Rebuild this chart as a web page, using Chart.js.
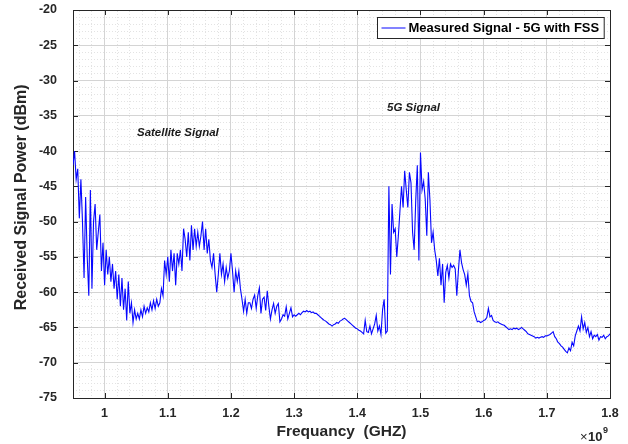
<!DOCTYPE html>
<html>
<head>
<meta charset="utf-8">
<title>Received Signal Power</title>
<script src="https://cdn.jsdelivr.net/npm/chart.js@4.4.1/dist/chart.umd.min.js"></script>
<style>
    html, body { margin: 0; padding: 0; background: #ffffff; }
    #wrap { width: 628px; height: 444px; }
</style>
</head>
<body>
<div id="wrap"><canvas id="signalChart" width="628" height="444"></canvas></div>
<script>
// sweep: 0.95 GHz to 1.80 GHz, one reading every 2.5 MHz
const freqStartGhz = 0.95;
const freqStepGhz = 0.0025;

const powerDbm = [
    -42, -40, -44, -42.5, -49.5, -44, -50, -58, -46.5, -55, -60.5, -45.5, -59.5, -50, -47.5, -54, -51.5, -49, -57, -53,
    -59, -54, -57.5, -55, -58.5, -56, -59.5, -57, -61, -57.5, -62, -58, -62.5, -59.5, -64, -58.5, -63, -61.5, -64.3, -62.5,
    -63.8, -63, -63.8, -62.5, -63.5, -62, -63, -62.2, -62.8, -61.5, -62.5, -61.2, -62.3, -61, -62, -61.5, -59.5, -60.5, -55.5, -57.5,
    -55, -58.5, -54, -57, -54.5, -59, -54.5, -56, -54, -57, -51, -52.5, -55, -51.5, -55.5, -50.5, -54, -51, -53.5, -51.5,
    -53.5, -52, -50, -54, -51, -54.5, -52.5, -55.5, -56.5, -54.5, -57.5, -60, -57.5, -54.5, -57.5, -56, -58.5, -56.5, -58, -57,
    -54.5, -57, -60, -57, -58.5, -57, -59.5, -61, -62.7, -61, -63, -61.5, -61.5, -62.3, -61, -60.4, -62.3, -60.5, -59.4, -63,
    -61, -60.7, -62.6, -59.8, -62, -63.8, -62.5, -61.6, -63, -62, -61.6, -64.2, -63.8, -63.2, -63.4, -62.1, -63.8, -63, -62.2, -63.5,
    -63.2, -63.4, -63.2, -63.0, -63.2, -62.9, -62.7, -62.8, -62.6, -62.8, -62.7, -62.9, -62.8, -63.0, -63.0, -63.2, -63.4, -63.6, -63.8, -64.0,
    -64.1, -64.3, -64.5, -64.6, -64.8, -64.6, -64.5, -64.3, -64.4, -64.1, -64.0, -63.8, -63.7, -63.9, -64.1, -64.3, -64.5, -64.7, -64.9, -65.1,
    -65.2, -65.4, -65.5, -65.7, -65.9, -64.0, -65.6, -65.7, -64.8, -65.9, -65.2, -64.5, -63.3, -65.5, -64.8, -66, -62.5, -61, -65.8, -65.5,
    -45, -57.5, -47.5, -51.5, -51, -55, -52, -48.5, -45, -48, -42.8, -45.5, -48, -43, -44.5, -51.5, -54, -47, -42, -55.5,
    -40.2, -45.5, -44.3, -46.8, -52, -43, -47, -53, -51.5, -54, -55.5, -57.7, -55.2, -59, -56, -61.5, -57.2, -56.2, -58, -56,
    -56.5, -56.2, -56.7, -60.5, -57, -54, -55.8, -56.8, -57.5, -59, -57.4, -60.5, -61.3, -61.5, -62.8, -63.5, -64.2, -64.1, -64.3, -64.2,
    -64, -63.9, -63.6, -62.3, -63.5, -63.3, -64, -64.2, -64.3, -64.2, -64.4, -64.5, -64.6, -64.7, -64.9, -65.1, -65.3, -65.2, -65.3, -65.1,
    -65.2, -65.1, -65.3, -65.2, -65.0, -65.2, -65.4, -65.6, -65.9, -66.0, -66.1, -66.2, -66.3, -66.5, -66.4, -66.5, -66.4, -66.3, -66.4, -66.2,
    -66.2, -66.1, -66, -65.8, -65.6, -66.3, -66.6, -67.1, -67.3, -67.6, -67.8, -68.1, -68.4, -68.6, -67.9, -68.3, -67.1, -67.6, -66.2, -65.5,
    -64.8, -65.5, -63.5, -65.2, -64.3, -65.7, -65, -66.3, -65.6, -66.6, -66.1, -66.3, -66, -66.8, -66.3, -66.4, -66.1, -66.6, -66.3, -66.2,
    -65.9
];

const freqGhz = powerDbm.map((_, i) => +(freqStartGhz + i * freqStepGhz).toFixed(4));

const xTickValues = [1, 1.1, 1.2, 1.3, 1.4, 1.5, 1.6, 1.7, 1.8];
const yTickValues = [-75, -70, -65, -60, -55, -50, -45, -40, -35, -30, -25, -20];

const noteTexts = ['Satellite Signal', '5G Signal'];
const noteFreqs = [1.116, 1.489];
const noteDbm = [-37.4, -33.8];

const seriesLabel = 'Measured Signal - 5G with FSS';
const lineColor = '#0707ff';
const axisColor = '#262626';
const fontFamily = '"Liberation Sans", Arial, Helvetica, sans-serif';

function minorTicks(min, max, step) {
    const out = [];
    for (let v = min; v <= max + 1e-9; v += step) {
        out.push({ value: +v.toFixed(4) });
    }
    return out;
}

// short inward tick marks on all four sides, like a boxed MATLAB axes
const boxTicks = {
    id: 'boxTicks',
    beforeDatasetsDraw(chart) {
        const ctx = chart.ctx;
        const area = chart.chartArea;
        const xs = chart.scales.x;
        const ys = chart.scales.y;
        const len = 5;
        ctx.save();
        ctx.strokeStyle = axisColor;
        ctx.lineWidth = 1;
        ctx.beginPath();
        xTickValues.forEach(v => {
            const px = Math.round(xs.getPixelForValue(v)) + 0.5;
            ctx.moveTo(px, area.bottom);
            ctx.lineTo(px, area.bottom - len);
            ctx.moveTo(px, area.top);
            ctx.lineTo(px, area.top + len);
        });
        yTickValues.forEach(v => {
            const py = Math.round(ys.getPixelForValue(v)) + 0.5;
            ctx.moveTo(area.left, py);
            ctx.lineTo(area.left + len, py);
            ctx.moveTo(area.right, py);
            ctx.lineTo(area.right - len, py);
        });
        ctx.stroke();
        ctx.restore();
    }
};

const matlabExtras = {
    id: 'matlabExtras',
    afterDatasetsDraw(chart) {
        const ctx = chart.ctx;
        const area = chart.chartArea;
        const xs = chart.scales.x;
        const ys = chart.scales.y;

        // text notes
        ctx.save();
        ctx.fillStyle = '#1a1a1a';
        ctx.font = 'italic bold 11.5px ' + fontFamily;
        ctx.textAlign = 'center';
        ctx.textBaseline = 'middle';
        noteTexts.forEach((t, i) => {
            ctx.fillText(t, xs.getPixelForValue(noteFreqs[i]), ys.getPixelForValue(noteDbm[i]));
        });
        ctx.restore();

        // legend box, top right inside axes
        ctx.save();
        ctx.font = 'bold 13px ' + fontFamily;
        const textW = ctx.measureText(seriesLabel).width;
        const boxW = textW + 36;
        const boxH = 21;
        const bx = Math.round(area.right - 6 - boxW) + 0.5;
        const by = Math.round(area.top + 7) + 0.5;
        ctx.fillStyle = '#ffffff';
        ctx.fillRect(bx, by, boxW, boxH);
        ctx.strokeStyle = axisColor;
        ctx.lineWidth = 1;
        ctx.strokeRect(bx, by, boxW, boxH);
        ctx.strokeStyle = lineColor;
        ctx.beginPath();
        ctx.moveTo(bx + 4, by + boxH / 2);
        ctx.lineTo(bx + 28, by + boxH / 2);
        ctx.stroke();
        ctx.fillStyle = '#000000';
        ctx.textBaseline = 'middle';
        ctx.fillText(seriesLabel, bx + 31, by + boxH / 2 + 0.5);
        ctx.restore();

        // exponent under the x axis
        ctx.save();
        ctx.fillStyle = axisColor;
        ctx.textBaseline = 'alphabetic';
        ctx.textAlign = 'right';
        const baseX = area.right - 2;
        const baseY = chart.height - 3;
        ctx.font = 'bold 9px ' + fontFamily;
        const supW = ctx.measureText('9').width;
        ctx.fillText('9', baseX, baseY - 8);
        ctx.font = 'bold 13px ' + fontFamily;
        ctx.fillText('10', baseX - supW - 0.5, baseY);
        const tenW = ctx.measureText('10').width;
        ctx.font = '13px ' + fontFamily;
        ctx.fillText('\u00d7', baseX - supW - tenW - 1, baseY);
        ctx.restore();
    }
};

document.addEventListener('DOMContentLoaded', function () {
    const chartElement = document.getElementById('signalChart');
    if (!chartElement) {
        console.error('Chart element not found!');
        return;
    }

    const ctx = chartElement.getContext('2d');
    new Chart(ctx, {
        type: 'line',
        data: {
            datasets: [{
                label: seriesLabel,
                data: freqGhz.map((f, i) => ({ x: f, y: powerDbm[i] })),
                borderColor: lineColor,
                borderWidth: 1.1,
                pointRadius: 0,
                tension: 0,
                fill: false
            }]
        },
        options: {
            responsive: false,
            animation: false,
            events: [],
            layout: { padding: { left: 0, right: 18, top: 10, bottom: 0 } },
            plugins: {
                legend: { display: false },
                tooltip: { enabled: false }
            },
            scales: {
                xMinor: {
                    type: 'linear',
                    position: 'top',
                    min: 0.95,
                    max: 1.8,
                    afterBuildTicks: s => { s.ticks = minorTicks(0.96, 1.8, 0.02); },
                    afterFit: s => { s.height = 0; },
                    ticks: { display: false },
                    grid: { color: '#e3e3e3', lineWidth: 1, drawTicks: false },
                    border: { display: true, color: axisColor, dash: [1, 2] }
                },
                yMinor: {
                    type: 'linear',
                    position: 'right',
                    min: -75,
                    max: -20,
                    afterBuildTicks: s => { s.ticks = minorTicks(-74, -21, 1); },
                    afterFit: s => { s.width = 0; s.paddingTop = 0; s.paddingBottom = 0; },
                    ticks: { display: false },
                    grid: { color: '#e3e3e3', lineWidth: 1, drawTicks: false },
                    border: { display: true, color: axisColor, dash: [1, 2] }
                },
                x: {
                    type: 'linear',
                    position: 'bottom',
                    min: 0.95,
                    max: 1.8,
                    afterBuildTicks: s => { s.ticks = xTickValues.map(v => ({ value: v })); },
                    afterFit: s => { s.height = 46; },
                    ticks: {
                        autoSkip: false,
                        maxRotation: 0,
                        padding: 8,
                        color: axisColor,
                        font: { family: fontFamily, size: 12.5, weight: 'bold' },
                        callback: v => String(v)
                    },
                    grid: { color: '#d4d4d4', lineWidth: 1, drawTicks: false },
                    border: { color: axisColor },
                    title: {
                        display: true,
                        text: 'Frequancy  (GHZ)',
                        color: axisColor,
                        font: { family: fontFamily, size: 15.5, weight: 'bold' },
                        padding: { top: 0, bottom: 3 }
                    }
                },
                y: {
                    type: 'linear',
                    position: 'left',
                    min: -75,
                    max: -20,
                    afterBuildTicks: s => { s.ticks = yTickValues.map(v => ({ value: v })); },
                    // keep the label overflow from pushing the plot box down
                    afterFit: s => { s.width = 73; s.paddingTop = 8; s.paddingBottom = 8; },
                    ticks: {
                        padding: 16,
                        color: axisColor,
                        font: { family: fontFamily, size: 12.5, weight: 'bold' },
                        callback: v => String(v)
                    },
                    grid: { color: '#d4d4d4', lineWidth: 1, drawTicks: false },
                    border: { color: axisColor },
                    title: {
                        display: true,
                        text: '   Received Signal Power (dBm)',
                        color: axisColor,
                        font: { family: fontFamily, size: 16, weight: 'bold' },
                        padding: { top: 12, bottom: 0 }
                    }
                }
            }
        },
        plugins: [boxTicks, matlabExtras]
    });
});
</script>
</body>
</html>
